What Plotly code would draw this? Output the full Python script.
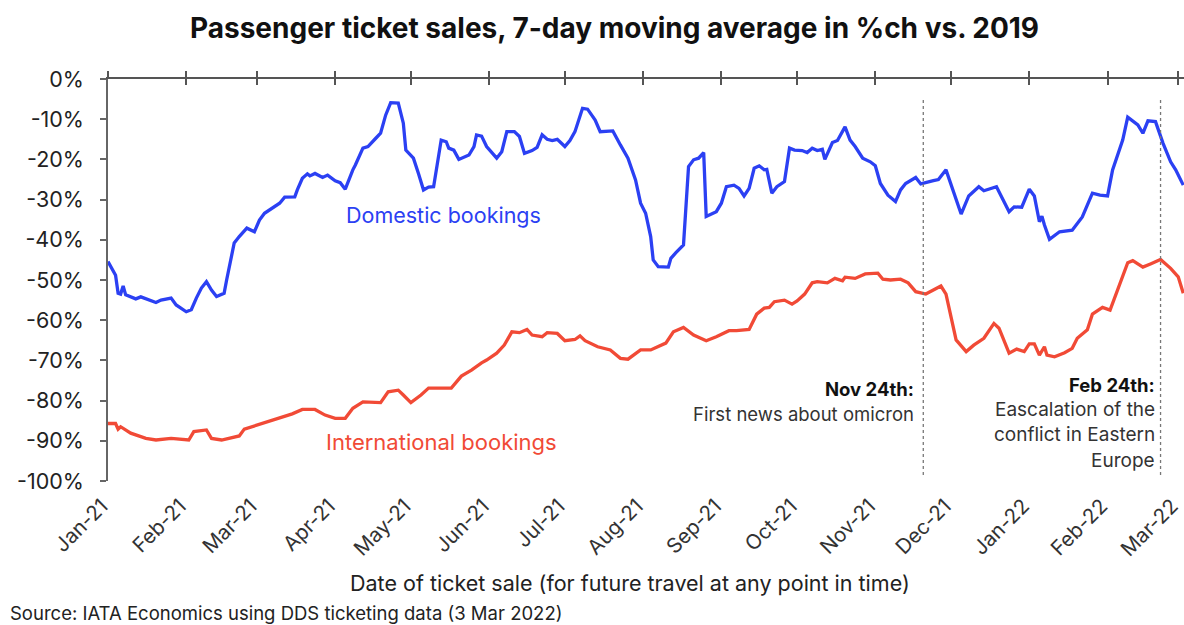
import pandas as pd
import plotly.graph_objects as go

# days counted from 1 Jan 2021, values in %ch vs. 2019
dom_days = [0, 3, 4, 5, 6, 7, 11, 13, 19, 21, 25, 27, 31, 33, 35, 37, 39, 41, 43, 46, 47, 49, 50, 52, 55, 58,
            60, 62, 65, 68, 70, 74, 75, 77, 79, 80, 82, 85, 87, 90, 92, 94, 97, 98, 101, 103, 106, 108, 110,
            112, 115, 117, 118, 120, 121, 123, 125, 127, 129, 132, 134, 135, 137, 139, 143, 145, 146, 148,
            150, 154, 156, 158, 161, 163, 165, 168, 170, 172, 174, 176, 178, 181, 183, 185, 188, 190, 193,
            195, 198, 200, 203, 206, 209, 211, 213, 215, 216, 218, 222, 223, 225, 228, 230, 232, 234, 236,
            237, 241, 243, 245, 248, 250, 252, 254, 256, 258, 260, 261, 263, 265, 268, 270, 272, 275, 277,
            279, 281, 283, 284, 287, 289, 292, 294, 296, 299, 302, 304, 306, 309, 312, 314, 316, 320, 322,
            327, 329, 332, 335, 338, 341, 345, 347, 352, 357, 359, 362, 365, 367, 369, 370, 371, 373, 377,
            382, 386, 390, 393, 396, 398, 402, 404, 408, 410, 412, 415, 418, 421, 423, 426]
dom_pct = [-45.4, -48.8, -53.3, -53.5, -51.5, -53.7, -54.7, -54.2, -55.6, -55, -54.5, -56.2, -57.9, -57.4,
           -54.5, -52, -50.4, -52.5, -54.1, -53.3, -50, -44.2, -40.8, -39.2, -37.1, -38, -35.1, -33.4,
           -32.1, -30.9, -29.4, -29.3, -27.6, -24.7, -23.6, -24.1, -23.5, -24.5, -23.9, -25.3, -25.8,
           -27.4, -22.6, -21.4, -17.2, -16.8, -14.8, -13.5, -9, -5.9, -6, -11, -17.7, -18.9, -19.7, -23.5,
           -27.6, -26.9, -26.8, -15.2, -15.6, -17.2, -17.7, -20, -18.9, -16.8, -13.9, -14.2, -16.8, -19.7,
           -18.1, -13.1, -13.1, -14.3, -18.5, -17.8, -17, -13.9, -15, -15.3, -15, -16.8, -15.3, -13.1,
           -7.3, -7.5, -10.2, -13.1, -13.1, -12.9, -16.4, -19.7, -25.1, -30.9, -33.4, -39.2, -45, -46.7,
           -46.8, -44.6, -43.2, -41.3, -21.8, -20.1, -19.7, -18.3, -34.2, -33, -30.9, -26.8, -26.4, -27.2,
           -29.1, -27.2, -22.2, -21.6, -22.6, -22.5, -28.4, -26.8, -25.5, -17.2, -17.7, -17.8, -18.3,
           -17.2, -17.8, -17.5, -20, -15.8, -15.3, -11.9, -15.2, -16.8, -19.7, -20.6, -21.6, -26, -28.9,
           -30.5, -27.6, -26, -24.5, -26.1, -25.3, -25, -22.6, -28.4, -33.6, -29.1, -26.8, -27.8, -26.8,
           -33, -31.8, -31.9, -27.4, -29.1, -35.5, -34.1, -36.3, -39.9, -38, -37.6, -34.3, -28.4, -28.9,
           -29.1, -22.6, -15.2, -9.5, -11.4, -13.5, -10.4, -10.6, -16, -20.6, -22.6, -26.4]

int_days = [0, 3, 4, 5, 9, 15, 19, 25, 32, 34, 39, 41, 45, 52, 54, 58, 64, 69, 73, 77, 82, 86, 90, 94, 97,
            101, 105, 108, 111, 115, 117, 120, 124, 127, 133, 136, 140, 144, 148, 150, 154, 157, 160, 163,
            166, 168, 172, 174, 178, 181, 185, 187, 189, 194, 199, 203, 206, 209, 211, 215, 221, 224, 228,
            232, 237, 241, 246, 249, 254, 257, 260, 262, 264, 268, 271, 273, 276, 279, 281, 285, 288, 291,
            292, 296, 300, 305, 307, 310, 314, 317, 320, 324, 327, 330, 332, 334, 336, 340, 343, 347, 351,
            353, 355, 357, 360, 363, 365, 367, 369, 371, 372, 375, 379, 382, 384, 388, 390, 394, 397, 401,
            404, 406, 410, 413, 417, 421, 424, 426]
int_pct = [-85.7, -85.7, -87.1, -86.5, -88.1, -89.4, -89.8, -89.4, -89.8, -87.7, -87.3, -89.4, -89.8,
           -88.8, -87.1, -86.3, -85.1, -84.2, -83.3, -82.2, -82.2, -83.6, -84.4, -84.4, -81.9, -80.3,
           -80.3, -80.5, -77.8, -77.4, -78.6, -80.5, -78.6, -76.9, -76.9, -76.9, -73.9, -72.4, -70.6,
           -69.9, -68.2, -66.2, -62.9, -63.1, -62.3, -63.7, -64.1, -63.1, -63.3, -65.1, -64.8, -63.9,
           -65.1, -66.6, -67.4, -69.5, -69.7, -68.2, -67.4, -67.4, -65.7, -62.9, -61.8, -63.7, -65.1,
           -64.1, -62.6, -62.6, -62.3, -58.5, -57, -56.8, -55.4, -55, -56, -55.2, -53.5, -50.7, -50.4,
           -50.7, -49.6, -50.2, -49.3, -49.6, -48.5, -48.3, -49.8, -50, -49.8, -50.7, -52.9, -53.5, -52.5,
           -51.5, -53.5, -59.1, -64.9, -67.8, -66.2, -64.5, -60.8, -62, -64.9, -68.2, -67.2, -67.8, -65.9,
           -65.9, -68.7, -66.6, -68.7, -69.1, -68.1, -67, -64.5, -62.4, -58.5, -56.8, -57.5, -50.8, -45.7,
           -45.2, -46.8, -46, -44.9, -47.1, -49.2, -53.3]

month_ticks = pd.date_range("2021-01-01", "2022-03-01", freq="MS")
month_labels = [d.strftime("%b-%y") for d in month_ticks]
y_ticks = list(range(-100, 1, 10))
y_labels = [f"{v}%" for v in y_ticks]

events = ["2021-11-20", "2022-02-22"]

BLUE = "#2b40f3"
RED = "#f14a36"
FONT = "Inter"
AXIS = "#666"

base = pd.Timestamp("2021-01-01")
dom_x = base + pd.to_timedelta(dom_days, unit="D")
int_x = base + pd.to_timedelta(int_days, unit="D")

fig = go.Figure()
fig.add_trace(go.Scatter(x=dom_x, y=dom_pct, mode="lines", line=dict(color=BLUE, width=3.3),
                         name="Domestic bookings"))
fig.add_trace(go.Scatter(x=int_x, y=int_pct, mode="lines", line=dict(color=RED, width=3.3),
                         name="International bookings"))
# placeholders so the overlaid top axes (line + crossing ticks) get drawn
for ax in ["x2", "x3"]:
    fig.add_trace(go.Scatter(x=dom_x[:1], y=dom_pct[:1], xaxis=ax, mode="none",
                             showlegend=False, hoverinfo="skip"))

x_range = ["2021-01-01", "2022-03-03 07:00"]

# event markers
for ev in events:
    fig.add_shape(type="line", x0=ev, x1=ev, y0=-98.5, y1=-4.5, xref="x", yref="y",
                  line=dict(color="#777", width=1.3, dash="dot"))

ann_font = dict(family=FONT, size=18.5, color="#333")
fig.add_annotation(x="2021-05-14", y=-33.8, text="Domestic bookings", showarrow=False,
                   font=dict(family=FONT, size=21.5, color=BLUE))
fig.add_annotation(x="2021-05-13", y=-90.3, text="International bookings", showarrow=False,
                   font=dict(family=FONT, size=22, color=RED))
fig.add_annotation(x="2021-11-17", y=-77.1, text="<b>Nov 24th:</b>", showarrow=False, xanchor="right",
                   font=dict(family=FONT, size=18.5, color="#111"))
fig.add_annotation(x="2021-11-17", y=-83.3, text="First news about omicron", showarrow=False,
                   xanchor="right", font=ann_font)
fig.add_annotation(x="2022-02-20 12:00", y=-76.1, text="<b>Feb 24th:</b>", showarrow=False,
                   xanchor="right", font=dict(family=FONT, size=18.5, color="#111"))
for txt, yy in [("Eascalation of the", -82.3), ("conflict in Eastern", -88.5), ("Europe", -94.8)]:
    fig.add_annotation(x="2022-02-20 12:00", y=yy, text=txt, showarrow=False, xanchor="right",
                       font=dict(family=FONT, size=19, color="#333"))

fig.add_annotation(x=0.485, xref="paper", y=-0.254, yref="paper", yanchor="middle",
                   text="Date of ticket sale (for future travel at any point in time)", showarrow=False,
                   font=dict(family=FONT, size=21.5, color="#222"))
fig.add_annotation(x=-0.093, xref="paper", xanchor="left", y=-0.328, yref="paper", yanchor="middle",
                   text="Source: IATA Economics using DDS ticketing data (3 Mar 2022)", showarrow=False,
                   font=dict(family=FONT, size=18.5, color="#222"))

fig.update_layout(
    width=1184, height=625,
    margin=dict(l=108, r=0, t=79, b=144, autoexpand=False),
    plot_bgcolor="white", paper_bgcolor="white",
    showlegend=False,
    title=dict(text="<b>Passenger ticket sales, 7-day moving average in %ch vs. 2019</b>",
               x=0.519, xanchor="center", y=0.955, yanchor="middle",
               font=dict(family=FONT, size=28, color="#111")),
    xaxis=dict(range=x_range, tickvals=month_ticks, ticktext=month_labels, tickangle=-45,
               showgrid=False, zeroline=False, showline=False, ticks="", automargin=False,
               ticklabelstandoff=8, ticklabelshift=-6, ticklabeloverflow="allow",
               tickfont=dict(family=FONT, size=20.5, color="#333")),
    xaxis2=dict(overlaying="x", side="top", matches="x", anchor="y", tickvals=month_ticks,
                showticklabels=False, showgrid=False, zeroline=False, showline=True, automargin=False,
                linecolor="#555", linewidth=1.5, ticks="outside", ticklen=6, tickwidth=1.5,
                tickcolor="#555"),
    xaxis3=dict(overlaying="x", side="top", matches="x", anchor="y", tickvals=month_ticks,
                showticklabels=False, showgrid=False, zeroline=False, showline=False, automargin=False,
                ticks="inside", ticklen=6, tickwidth=1.5, tickcolor="#555"),
    yaxis=dict(range=[-100, 0], tickvals=y_ticks, ticktext=y_labels, showgrid=False, zeroline=False,
               showline=True, linecolor=AXIS, linewidth=1.5, ticks="outside", ticklen=6,
               tickwidth=1.5, tickcolor=AXIS, ticklabelstandoff=12, automargin=False,
               tickfont=dict(family=FONT, size=21.5, color="#222")),
)

# drop the browser's default 8px body margin so the figure sits at the page corner
fig.write_html("out.html", config={"displayModeBar": False},
               post_script="document.body.style.margin='0';")
